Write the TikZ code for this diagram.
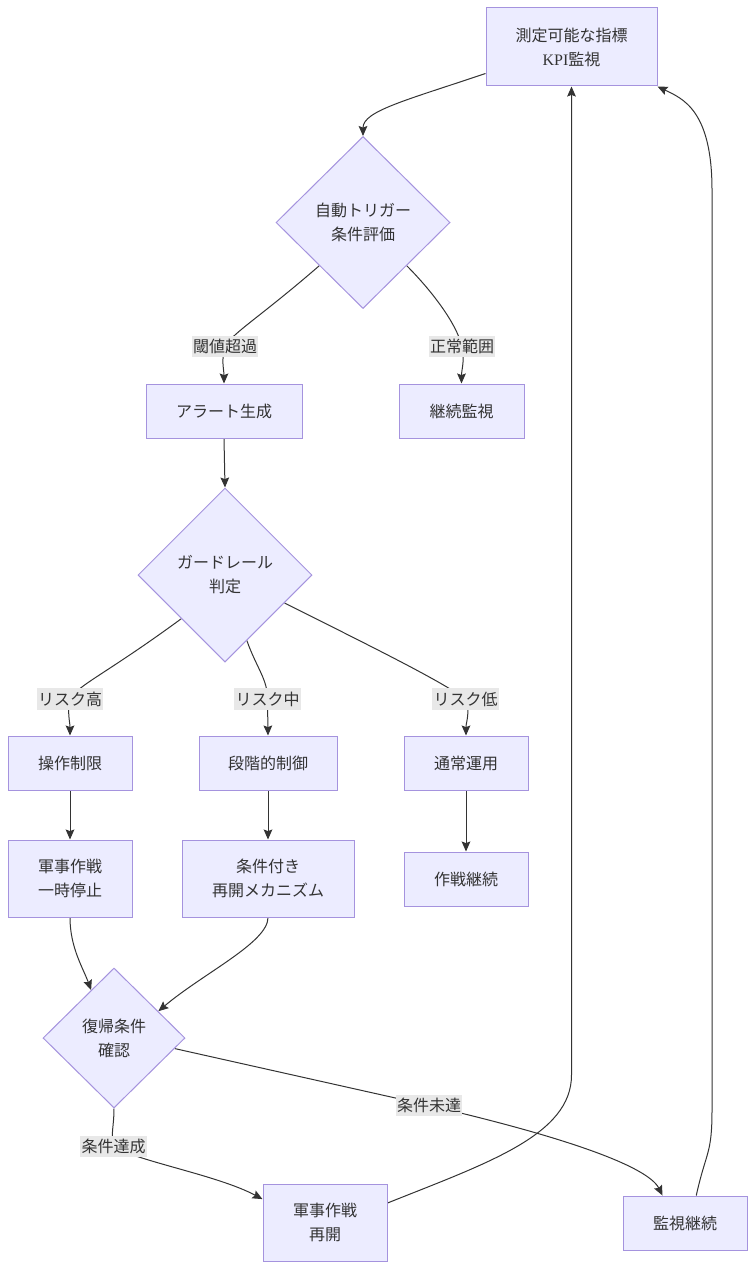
\documentclass[tikz,border=0pt]{standalone}
\usepackage{fontspec}
\setmainfont{Noto Sans CJK JP}
\newfontfamily\kpifont{Liberation Serif}
\usetikzlibrary{shapes.geometric,arrows.meta,calc}
\definecolor{nodefill}{HTML}{ECECFF}
\definecolor{nodeline}{HTML}{A593DE}
\definecolor{txt}{HTML}{333333}
\definecolor{labelbg}{HTML}{E8E8E8}
\pgfdeclarelayer{bg}
\pgfsetlayers{bg,main}
\begin{document}
\begin{tikzpicture}[x=0.75pt,y=-0.75pt,
  box/.style={draw=nodeline, fill=nodefill, line width=0.75pt, text=txt, align=center,
    font=\fontsize{12}{18}\selectfont, inner sep=0pt},
  dia/.style={box, diamond, aspect=1},
  elab/.style={fill=labelbg, text=txt, font=\fontsize{12}{15}\selectfont,
    inner xsep=1pt, inner ysep=2.5pt},
  conn/.style={draw=txt, line width=0.75pt},
  arr/.style={conn, -{Stealth[length=7.5pt,width=6.5pt,inset=1.2pt]}}]
\useasboundingbox (0,0) rectangle (755,1270);

% nodes
\node[box, minimum width=128.25pt, minimum height=58.5pt] (kpi) at (571.5,47) {測定可能な指標\\{\kpifont KPI}監視};
\node[dia, minimum width=130.5pt, minimum height=129pt] (trig) at (363,222.5) {自動トリガー\\条件評価};
\node[box, minimum width=117pt, minimum height=40.5pt] (alert) at (224,411) {アラート生成};
\node[box, minimum width=93.75pt, minimum height=40.5pt] (cont) at (461.5,411) {継続監視};
\node[dia, minimum width=130.5pt, minimum height=130.5pt] (guard) at (225,575) {ガードレール\\判定};
\node[box, minimum width=93pt, minimum height=40.5pt] (op) at (70,763) {操作制限};
\node[box, minimum width=103.5pt, minimum height=40.5pt] (step) at (268,763) {段階的制御};
\node[box, minimum width=93pt, minimum height=40.5pt] (norm) at (466,763) {通常運用};
\node[box, minimum width=93pt, minimum height=57.75pt] (pause) at (70,878.5) {軍事作戦\\一時停止};
\node[box, minimum width=129pt, minimum height=57.75pt] (cond) at (268,878.5) {条件付き\\再開メカニズム};
\node[box, minimum width=93pt, minimum height=40.5pt] (cont2) at (466,879) {作戦継続};
\node[dia, minimum width=106.5pt, minimum height=105pt] (rec) at (114,1038) {復帰条件\\確認};
\node[box, minimum width=93pt, minimum height=57.75pt] (resume) at (325,1222.5) {軍事作戦\\再開};
\node[box, minimum width=93pt, minimum height=40.5pt] (mon) at (685,1223) {監視継続};

% edge labels
\node[elab] (l1) at (225,346.5) {閾値超過};
\node[elab] (l2) at (462,346.5) {正常範囲};
\node[elab] (l3) at (70,699) {リスク高};
\node[elab] (l4) at (267.5,699) {リスク中};
\node[elab] (l5) at (465.5,699) {リスク低};
\node[elab] (l6) at (113.5,1146.5) {条件達成};
\node[elab] (l7) at (429,1105.5) {条件未達};

% helper coordinates
\coordinate (s1) at ($(kpi.south west)+(0,-13)$);
\coordinate (s6) at ($(guard.south)!0.25!(guard.east)$);
\coordinate (s7) at ($(guard.east)!0.32!(guard.south)$);
\coordinate (t11) at ($(rec.west)!0.68!(rec.north)$);
\coordinate (t12) at ($(rec.north)!0.62!(rec.east)$);
\coordinate (t13) at ($(resume.north west)!0.2!(resume.south west)$);
\coordinate (s14) at ($(rec.east)!0.15!(rec.south)$);
\coordinate (t14) at ($(mon.north west)!0.32!(mon.north east)$);
\coordinate (s15) at ($(resume.north east)!0.25!(resume.south east)$);
\coordinate (j1) at (571.5,1075);
\coordinate (s16) at ($(mon.north west)!0.59!(mon.north east)$);
\coordinate (j2) at (712,1110);
\coordinate (j3) at (712,190);

\begin{pgfonlayer}{bg}
\draw[arr] (s1) .. controls +(-80,27) and +(0,-25) .. (trig.north);
\draw[conn] (trig.south west) .. controls +(-60,52) and +(8,-14) .. (l1.center);
\draw[arr] (l1.center) .. controls +(-4,14) and +(0,-14) .. (alert.north);
\draw[conn] (trig.south east) .. controls +(22,22) and +(-6,-25) .. (l2.center);
\draw[arr] (l2.center) .. controls +(3,14) and +(0,-14) .. (cont.north);
\draw[arr] (alert.south) -- (guard.north);
\draw[conn] (guard.south west) .. controls +(-75,55) and +(8,-14) .. (l3.center);
\draw[arr] (l3.center) .. controls +(-3,14) and +(0,-14) .. (op.north);
\draw[conn] (s6) .. controls +(10,28) and +(0,-20) .. (l4.center);
\draw[arr] (l4.center) -- (step.north);
\draw[conn] (s7) .. controls +(100,50) and +(-25,-18) .. (l5.center);
\draw[arr] (l5.center) .. controls +(5,14) and +(0,-14) .. (norm.north);
\draw[arr] (op.south) -- (pause.north);
\draw[arr] (step.south) -- (cond.north);
\draw[arr] (norm.south) -- (cont2.north);
\draw[arr] (pause.south) .. controls +(0,30) and +(-8,-22) .. (t11);
\draw[arr] (cond.south) .. controls +(0,25) and +(45,-38) .. (t12);
\draw[conn] (rec.south) .. controls +(0,18) and +(-3,-12) .. (l6.center);
\draw[arr] (l6.center) .. controls +(25,15) and +(-45,-24) .. (t13);
\draw[conn] (s14) -- (l7.center);
\draw[arr] (l7.center) .. controls +(130,30) and +(-15,-30) .. (t14);
\draw[arr] (s15) .. controls +(100,-40) and +(0,60) .. (j1) -- (kpi.south);
\draw[arr] (s16) .. controls +(10,-45) and +(0,45) .. (j2) -- (j3) .. controls +(0,-80) and +(25,12) .. (kpi.south east);
\end{pgfonlayer}
\end{tikzpicture}
\end{document}
